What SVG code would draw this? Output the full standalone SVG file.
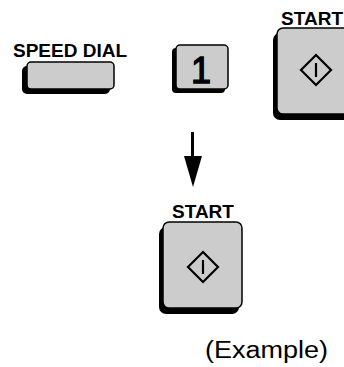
<svg xmlns="http://www.w3.org/2000/svg" width="344" height="367" viewBox="0 0 344 367">
<style>
.lbl{font-family:"Liberation Sans",Arial,sans-serif;font-weight:bold;font-size:19px;fill:#000}
.face{fill:#cccccc;stroke:#000;stroke-width:1.5}
.shadow{fill:#000}
.sym{fill:none;stroke:#000;stroke-width:2.2}
.txt{font-family:"Liberation Sans",Arial,sans-serif;fill:#000}
</style>
<rect width="344" height="367" fill="#fff"/>
<g id="speed-dial">
<text class="lbl" x="13" y="57">SPEED DIAL</text>
<rect class="shadow" x="22" y="66" width="88" height="28" rx="5"/>
<rect class="face" x="27" y="62" width="87" height="27" rx="4"/>
</g>
<g id="key-1">
<rect class="shadow" x="172" y="48" width="53" height="45" rx="4"/>
<rect class="face" x="176" y="45" width="52" height="44" rx="4"/>
<text class="txt" x="201" y="83" font-size="36" stroke="#000" stroke-width="1.3" text-anchor="middle">1</text>
</g>
<g id="start-top">
<text class="lbl" x="343" y="25" text-anchor="end">START</text>
<rect class="shadow" x="273" y="33" width="80" height="87" rx="7"/>
<rect class="face" x="277" y="28" width="79" height="86" rx="6"/>
<path class="sym" d="M316 55 L331 70 L316 85 L301 70 Z"/>
<line x1="316" y1="63" x2="316" y2="77" stroke="#000" stroke-width="2.2"/>
</g>
<g id="connectors">
<line x1="192.5" y1="132" x2="192.5" y2="158" stroke="#000" stroke-width="3"/>
<polygon points="184,156 202,156 193,187" fill="#000"/>
</g>
<g id="start-bottom">
<text class="lbl" x="203" y="218" text-anchor="middle">START</text>
<rect class="shadow" x="159" y="227" width="80" height="87" rx="7"/>
<rect class="face" x="163" y="222" width="79" height="86" rx="6"/>
<path class="sym" d="M203 252 L218 267 L203 282 L188 267 Z"/>
<line x1="203" y1="260" x2="203" y2="274" stroke="#000" stroke-width="2.2"/>
</g>
<g id="caption">
<text class="txt" x="205" y="358" font-size="23" textLength="123" lengthAdjust="spacingAndGlyphs">(Example)</text>
</g>
</svg>
